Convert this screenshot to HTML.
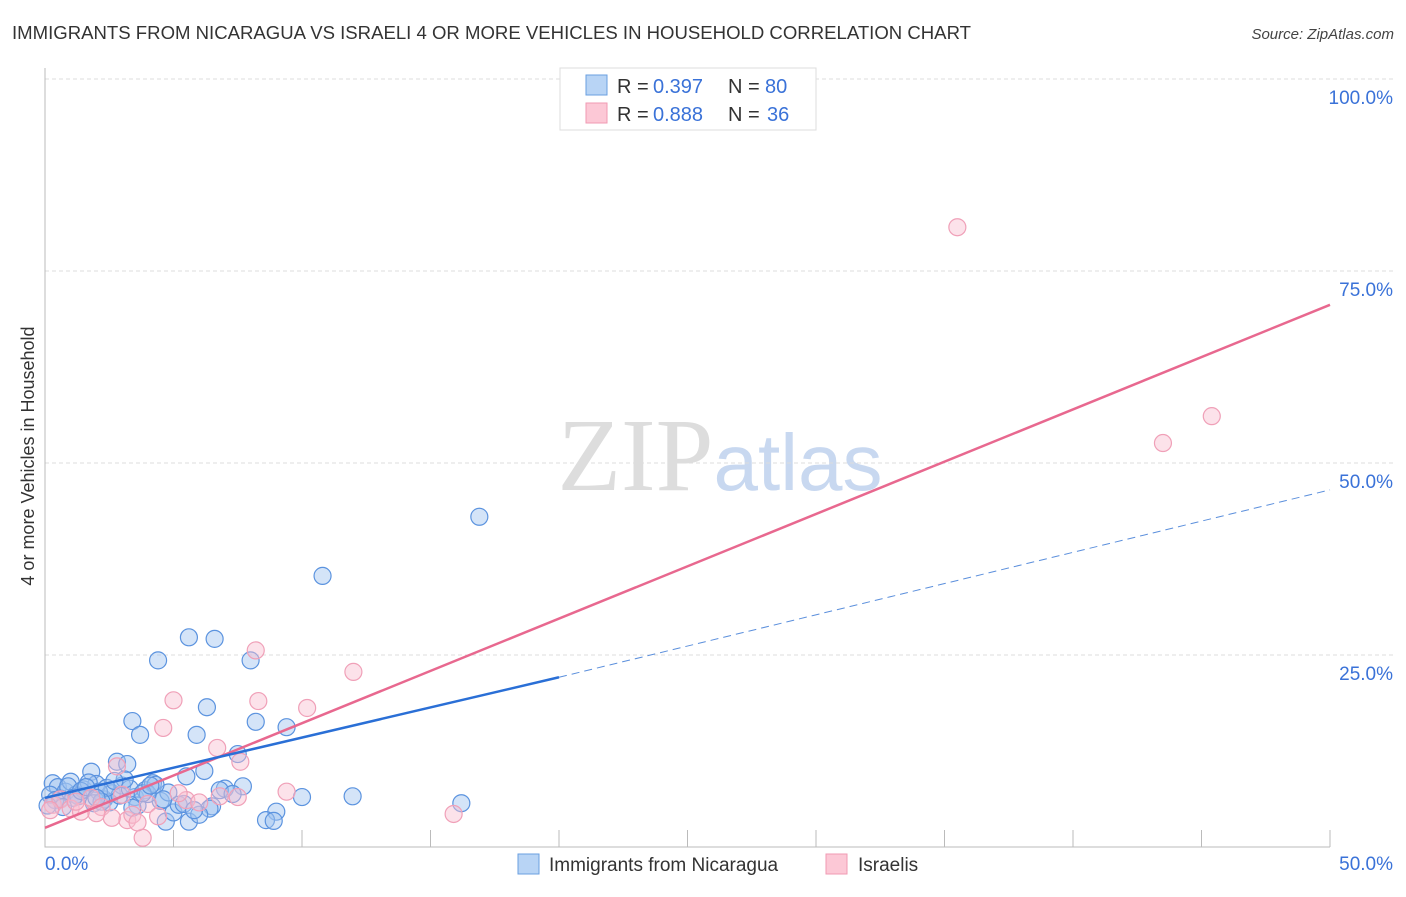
<!DOCTYPE html>
<html><head><meta charset="utf-8">
<style>
body{margin:0;background:#fff;font-family:"Liberation Sans",sans-serif;}
svg text{font-family:"Liberation Sans",sans-serif;}
</style></head>
<body>
<svg id="chart" width="1406" height="892" xmlns="http://www.w3.org/2000/svg">
<text x="12" y="39" font-size="18" fill="#333" textLength="959" lengthAdjust="spacingAndGlyphs">IMMIGRANTS FROM NICARAGUA VS ISRAELI 4 OR MORE VEHICLES IN HOUSEHOLD CORRELATION CHART</text>
<text x="1394" y="39" font-size="15" fill="#444" font-style="italic" text-anchor="end">Source: ZipAtlas.com</text>
<text x="720" y="490" font-size="104" text-anchor="middle"><tspan fill="#ddd" font-family="Liberation Serif">ZIP</tspan><tspan fill="#c8d8f0" font-size="80">atlas</tspan></text>
<g id="grid"></g>
<g id="axes"></g>
<g id="marks"></g>
<text transform="translate(34,456) rotate(-90)" font-size="18" fill="#333" text-anchor="middle">4 or more Vehicles in Household</text>
<g>
<rect x="560" y="68" width="256" height="62" fill="#fff" stroke="#ddd"/>
<rect x="586" y="75" width="21" height="20" fill="#b8d4f5" stroke="#6a9fe0"/>
<rect x="586" y="103" width="21" height="20" fill="#fcc8d6" stroke="#f09ab3"/>
<text x="617" y="93" font-size="20" fill="#333">R =</text>
<text x="653" y="93" font-size="20" fill="#3a72d8">0.397</text>
<text x="728" y="93" font-size="20" fill="#333">N =</text>
<text x="765" y="93" font-size="20" fill="#3a72d8">80</text>
<text x="617" y="121" font-size="20" fill="#333">R =</text>
<text x="653" y="121" font-size="20" fill="#3a72d8">0.888</text>
<text x="728" y="121" font-size="20" fill="#333">N =</text>
<text x="767" y="121" font-size="20" fill="#3a72d8">36</text>
</g>
<g>
<rect x="518" y="854" width="21" height="20" fill="#b8d4f5" stroke="#6a9fe0"/>
<text x="549" y="871" font-size="19" fill="#333">Immigrants from Nicaragua</text>
<rect x="826" y="854" width="21" height="20" fill="#fcc8d6" stroke="#f09ab3"/>
<text x="858" y="871" font-size="19" fill="#333">Israelis</text>
</g>
</svg>
<script>
const yTicks=[25,50,75,100];
const yTickLabels=["25.0%","50.0%","75.0%","100.0%"];
const xTickLabels=["0.0%","50.0%"];
const blueX=[16.9,10.8,5.6,6.6,4.4,8.0,6.3,3.4,8.2,9.4,3.7,5.9,7.5,2.8,3.2,6.2,1.8,5.5,16.2,11.97,10.0,9.0,8.6,8.9,7.7,7.0,6.5,6.4,5.6,4.7,5.0,0.3,0.5,0.8,1.0,1.2,1.5,2.0,2.3,2.6,3.0,3.5,3.9,4.2,4.5,4.8,5.2,0.2,0.6,0.9,1.3,1.7,2.1,2.5,2.9,3.3,3.6,4.0,4.3,1.1,1.9,2.4,3.1,0.4,1.4,2.2,2.7,3.8,4.6,5.4,6.0,6.8,0.7,1.6,2.0,3.4,4.1,5.8,7.3,0.1];
const blueY=[43.0,35.3,27.3,27.1,24.3,24.3,18.2,16.4,16.3,15.6,14.6,14.6,12.1,11.1,10.8,9.9,9.8,9.2,5.7,6.6,6.5,4.6,3.5,3.4,7.9,7.6,5.3,5.0,3.3,3.3,4.5,8.3,7.8,7.2,8.5,6.8,7.5,8.2,6.2,7.0,8.0,6.5,7.4,8.3,6.0,7.1,5.5,6.8,6.3,7.9,6.6,8.4,7.2,5.8,6.7,7.6,5.4,6.9,8.1,6.4,5.7,7.7,8.8,6.1,7.3,5.9,8.6,7.0,6.2,5.6,4.2,7.4,5.2,7.8,6.4,5.1,8.0,4.8,6.9,5.4];
const pinkX=[35.5,45.4,43.5,12.0,8.2,8.3,10.2,5.0,4.6,6.7,7.6,15.9,9.4,7.5,5.5,3.8,3.2,0.3,0.6,1.0,1.4,1.8,2.2,2.6,3.0,3.4,4.0,4.4,5.2,6.0,6.8,0.2,1.2,2.0,2.8,3.6];
const pinkY=[80.7,56.1,52.6,22.8,25.6,19.0,18.1,19.1,15.5,12.9,11.1,4.3,7.2,6.5,6.1,1.2,3.5,5.5,6.2,5.0,4.6,6.4,5.2,3.8,6.8,4.2,5.6,4.0,7.0,5.8,6.6,4.8,5.9,4.4,10.5,3.2];
const pinkLine=[[0,2.5],[50,70.6]];
const blueLine=[[0,6.4],[20,22.1]];
const blueDash=[[20,22.1],[50,46.5]];
const X=v=>45+v*25.7, Y=v=>847-v*7.68;
const NS="http://www.w3.org/2000/svg";
function mk(t,a,p){const e=document.createElementNS(NS,t);for(const k in a)e.setAttribute(k,a[k]);p.appendChild(e);return e;}
const grid=document.getElementById('grid'),axes=document.getElementById('axes'),marks=document.getElementById('marks');
yTicks.forEach((v,i)=>{
 const l=mk('line',{x1:45,x2:1393,y1:Y(v),y2:Y(v),stroke:'#ddd','stroke-dasharray':'4,3'},grid);
 
 
 const t=mk('text',{x:1393,y:Y(v)+25,'font-size':19,fill:'#3a72d8','text-anchor':'end'},axes);
 t.textContent=yTickLabels[i];
 
 
});
const ax=mk('path',{d:'M45,68 V847 H1330',stroke:'#bbb',fill:'none'},axes);


for(let i=1;i<=10;i++){const tk=mk('line',{x1:X(i*5),x2:X(i*5),y1:847,y2:830,stroke:'#bbb'},axes);
 
 }
[[45,'start'],[1393,'end']].forEach((p,i)=>{const t=mk('text',{x:p[0],y:870,'font-size':19,fill:'#3a72d8','text-anchor':p[1]},axes);t.textContent=xTickLabels[i];
 
 });
blueX.forEach((v,i)=>{const c=mk('circle',{cx:X(v),cy:Y(blueY[i]),r:8.5,fill:'rgba(160,196,240,0.45)',stroke:'#5b93df','stroke-width':1.2},marks);
 
 });
pinkX.forEach((v,i)=>{const c=mk('circle',{cx:X(v),cy:Y(pinkY[i]),r:8.5,fill:'rgba(248,190,208,0.45)',stroke:'#f0a0b8','stroke-width':1.2},marks);
 
 });
function ln(d,st,name){const l=mk('line',Object.assign({x1:X(d[0][0]),y1:Y(d[0][1]),x2:X(d[1][0]),y2:Y(d[1][1])},st),marks);
 
 }
ln(pinkLine,{stroke:'#e8688f','stroke-width':2.5},'israeli-trendline');
ln(blueLine,{stroke:'#2a6fd6','stroke-width':2.5},'nicaragua-trendline');
ln(blueDash,{stroke:'#5b8fdc','stroke-width':1,'stroke-dasharray':'8,5'},'nicaragua-trendline-extension');
</script>
</body></html>
